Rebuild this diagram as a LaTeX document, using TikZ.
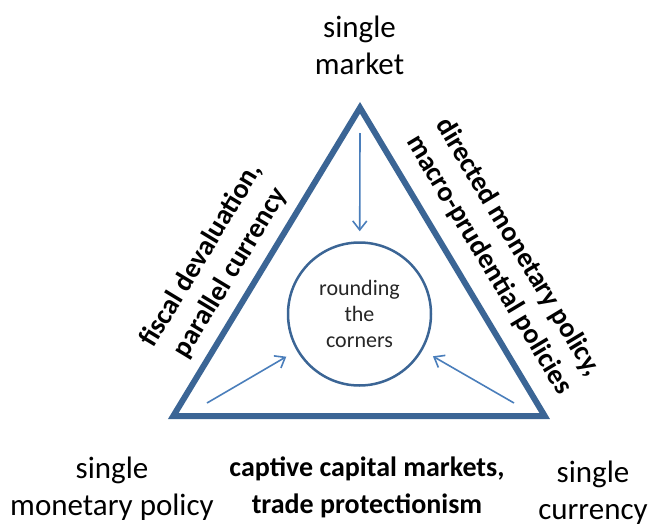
\documentclass[tikz,border=0pt]{standalone}
\usepackage{fontspec}
\setmainfont{Carlito}
\usetikzlibrary{arrows.meta}
\definecolor{triblue}{HTML}{3B6595}
\definecolor{arrblue}{HTML}{4A7EBB}
\begin{document}
\begin{tikzpicture}[x=1pt,y=-1pt,
    corner/.style={align=center,inner sep=0pt,font=\fontsize{31}{37}\selectfont},
    remedy/.style={align=center,inner sep=0pt,font=\fontsize{28}{34}\selectfont\bfseries},
    push/.style={draw=arrblue,line width=1.6pt,-{Straight Barb[length=9pt,width=14pt]}}]
    \useasboundingbox (0,0) rectangle (654,525);
    % the trilemma
    \coordinate (apex) at (360,107.8);
    \coordinate (bl) at (173.3,416);
    \coordinate (br) at (544.7,416);
    \draw[triblue,line width=6pt] (apex) -- (br) -- (bl) -- cycle;
    \node[circle,draw=triblue,line width=2.5pt,minimum size=143pt,align=center,
          text=black!85,font=\fontsize{22}{26}\selectfont] (hub) at (359.5,314) {rounding\\the\\corners};
    % arrows into the middle
    \coordinate (ftop) at (360,133);
    \coordinate (fleft) at (207,403);
    \coordinate (fright) at (514,403);
    \draw[push,shorten >=10pt] (ftop) -- (hub);
    \draw[push,shorten >=12pt] (fleft) -- (hub);
    \draw[push,shorten >=12pt] (fright) -- (hub);
    % corners
    \node[corner] (market) at (359.5,45) {single\\market};
    \node[corner] (policy) at (112,488.5) {single\\monetary policy};
    \node[corner] (money) at (593,492.5) {single\\currency};
    % sides
    \node[remedy,font=\fontsize{28}{37}\selectfont\bfseries] (capital) at (367,487) {captive capital markets,\\trade protectionism};
    \node[remedy,rotate=58.8] (fiscal) at (216,264) {fiscal devaluation,\\parallel currency};
    \node[remedy,rotate=-59] (directed) at (503.5,256) {directed monetary policy,\\macro-prudential policies};
\end{tikzpicture}
\end{document}
